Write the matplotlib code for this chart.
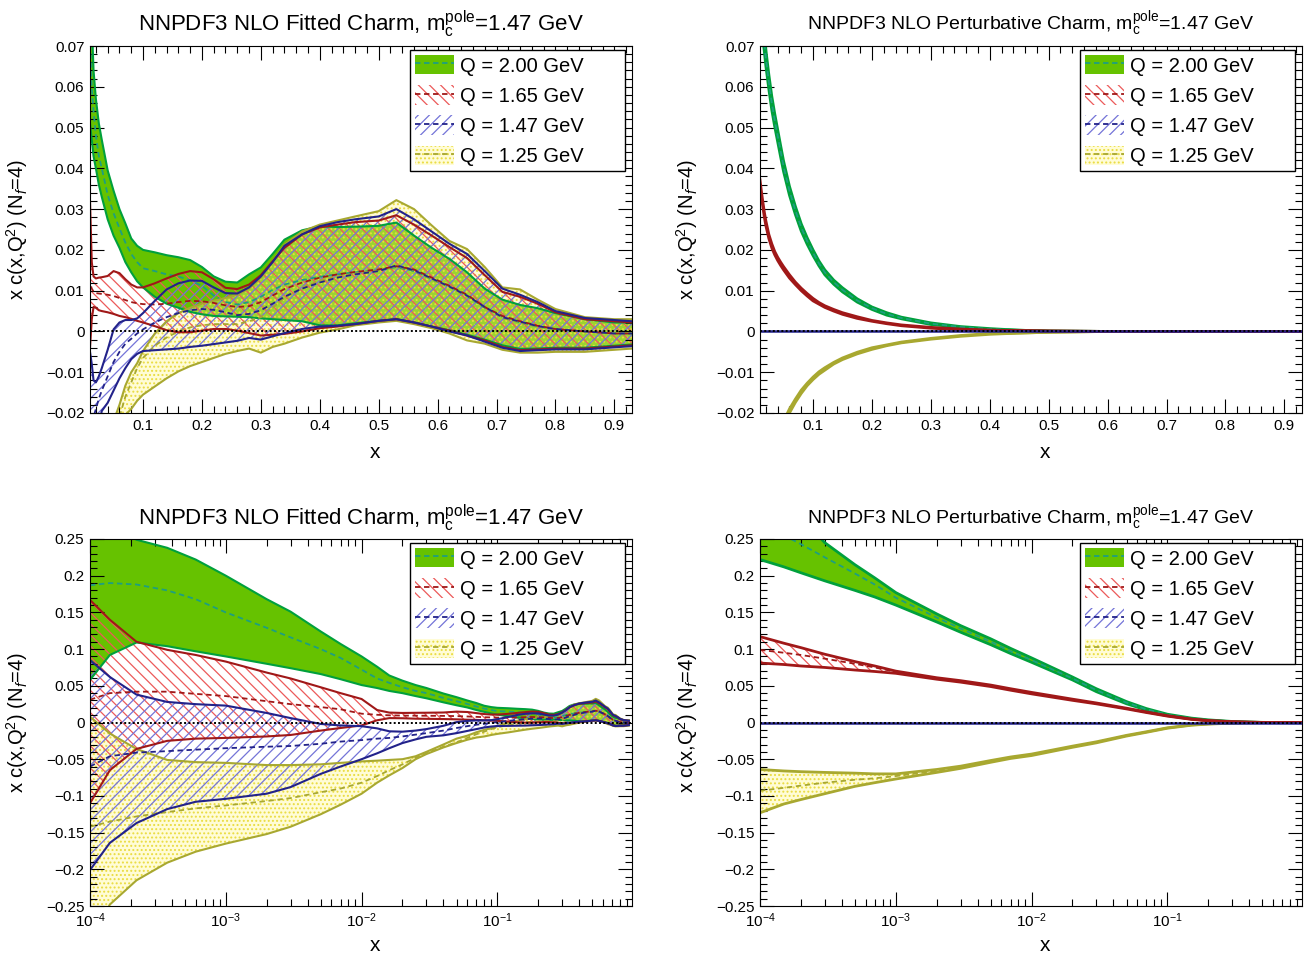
import matplotlib
matplotlib.use('Agg')
import matplotlib.pyplot as plt
from matplotlib.patches import Patch
from matplotlib.lines import Line2D
from matplotlib.ticker import MultipleLocator, FuncFormatter, LogLocator

plt.rcParams['font.family'] = ['Liberation Sans', 'DejaVu Sans']
plt.rcParams['mathtext.fontset'] = 'custom'
plt.rcParams['mathtext.rm'] = 'Liberation Sans'
plt.rcParams['mathtext.it'] = 'Liberation Sans:italic'
plt.rcParams['hatch.linewidth'] = 0.9

# ---------------- fitted charm (same curves in the linear and log panels)
x_fit = [1e-4, 1.4e-4, 2.2e-4, 3.7e-4, 6e-4, 1e-3, 2e-3, 3e-3, 5e-3, 7e-3,
         0.01, 0.013, 0.016, 0.02, 0.025, 0.03, 0.04, 0.05, 0.06, 0.07,
         0.08, 0.09, 0.1, 0.12, 0.14, 0.16, 0.18, 0.2, 0.22, 0.24,
         0.26, 0.28, 0.3, 0.32, 0.34, 0.37, 0.4, 0.43, 0.46, 0.5,
         0.53, 0.56, 0.59, 0.62, 0.65, 0.68, 0.71, 0.74, 0.77, 0.8,
         0.85, 0.9, 0.93]

# Q = 2.00 GeV
fit200_c = [0.187, 0.190, 0.188, 0.180, 0.168, 0.150, 0.129, 0.116, 0.100, 0.088,
            0.072, 0.060, 0.054, 0.048, 0.043, 0.040, 0.0335, 0.029, 0.0253, 0.0218,
            0.019, 0.017, 0.0155, 0.0148, 0.014, 0.0135, 0.0125, 0.0112, 0.0088, 0.0072,
            0.0066, 0.0072, 0.0085, 0.0102, 0.0115, 0.0126, 0.0134, 0.014, 0.0145, 0.015,
            0.0158, 0.0148, 0.0128, 0.011, 0.0087, 0.0058, 0.0035, 0.0022, 0.0012, 0.0005,
            0.0, -0.0005, -0.0005]
fit200_hi = [0.285, 0.27, 0.249, 0.238, 0.222, 0.200, 0.168, 0.151, 0.124, 0.107,
             0.090, 0.076, 0.064, 0.057, 0.051, 0.047, 0.0395, 0.0345, 0.030, 0.0265,
             0.0228, 0.021, 0.020, 0.0194, 0.0187, 0.0182, 0.0175, 0.0158, 0.0135, 0.0122,
             0.0120, 0.0140, 0.0157, 0.0190, 0.0225, 0.0248, 0.0258, 0.0256, 0.0257, 0.0259,
             0.0267, 0.0235, 0.0205, 0.0178, 0.0145, 0.0105, 0.0078, 0.0065, 0.0057, 0.0045,
             0.0030, 0.0022, 0.0022]
fit200_lo = [0.058, 0.092, 0.109, 0.104, 0.097, 0.090, 0.080, 0.074, 0.066, 0.059,
             0.051, 0.047, 0.043, 0.040, 0.036, 0.033, 0.0275, 0.0235, 0.0205, 0.017,
             0.0145, 0.0123, 0.0108, 0.0085, 0.0068, 0.0058, 0.0048, 0.0042, 0.0038, 0.0037,
             0.0036, 0.0035, 0.0032, 0.0030, 0.0028, 0.0025, 0.0015, 0.0015, 0.0020, 0.0026,
             0.0030, 0.0022, 0.0012, 0.0003, -0.0008, -0.0020, -0.0034, -0.0043, -0.0042, -0.0040,
             -0.0040, -0.0035, -0.0032]

# Q = 1.65 GeV
fit165_c = [0.031, 0.040, 0.042, 0.042, 0.039, 0.036, 0.029, 0.025, 0.021, 0.018,
            0.012, 0.0105, 0.0098, 0.0094, 0.0093, 0.0092, 0.0090, 0.0087, 0.0082, 0.0077,
            0.0072, 0.0069, 0.0067, 0.0066, 0.0068, 0.0072, 0.0075, 0.0074, 0.007, 0.0064,
            0.006, 0.0062, 0.0072, 0.0088, 0.0104, 0.012, 0.0132, 0.014, 0.0146, 0.0152,
            0.016, 0.0152, 0.0132, 0.0112, 0.009, 0.006, 0.0038, 0.0025, 0.0014, 0.0006,
            0.0, -0.0005, -0.0005]
fit165_hi = [0.167, 0.14, 0.110, 0.099, 0.092, 0.083, 0.068, 0.060, 0.048, 0.040,
             0.032, 0.017, 0.0135, 0.013, 0.0132, 0.0133, 0.0136, 0.0148, 0.0143, 0.0128,
             0.0115, 0.0108, 0.0108, 0.0118, 0.013, 0.0141, 0.0148, 0.0145, 0.0128, 0.0107,
             0.0104, 0.0115, 0.0138, 0.0172, 0.0205, 0.0238, 0.0255, 0.0262, 0.0268, 0.0272,
             0.0285, 0.0262, 0.0235, 0.0207, 0.018, 0.0138, 0.0097, 0.0085, 0.0068, 0.0047,
             0.0030, 0.0025, 0.0022]
fit165_lo = [-0.110, -0.065, -0.036, -0.025, -0.022, -0.021, -0.019, -0.017, -0.011, -0.0075,
             -0.004, 0.003, 0.006, 0.0058, 0.0052, 0.0050, 0.0047, 0.0043, 0.0038, 0.0035,
             0.0031, 0.0026, 0.0022, 0.0013, 0.0003, -0.0002, -0.0002, 0.0002, 0.0006, 0.0006,
             0.0002, -0.0004, -0.001, -0.0008, -0.0006, 0.0, 0.0008, 0.0012, 0.0018, 0.0026,
             0.003, 0.0022, 0.0012, 0.0002, -0.001, -0.0022, -0.0038, -0.0046, -0.0044, -0.0042,
             -0.0042, -0.0037, -0.0034]

# Q = 1.47 GeV
fit147_c = [-0.060, -0.046, -0.041, -0.039, -0.037, -0.035, -0.033, -0.032, -0.029, -0.026,
            -0.024, -0.022, -0.021, -0.019, -0.0165, -0.0145, -0.011, -0.0075, -0.005, -0.003,
            -0.0018, -0.0005, 0.0005, 0.0022, 0.0035, 0.0045, 0.0052, 0.0055, 0.0053, 0.0047,
            0.0040, 0.0043, 0.0052, 0.0068, 0.0085, 0.0105, 0.012, 0.0132, 0.014, 0.0148,
            0.0162, 0.015, 0.013, 0.011, 0.0088, 0.006, 0.0035, 0.0024, 0.0013, 0.0006,
            0.0, -0.0005, -0.0005]
fit147_hi = [0.085, 0.062, 0.038, 0.028, 0.025, 0.023, 0.013, 0.006, -0.002, -0.004,
             -0.005, -0.008, -0.012, -0.0125, -0.011, -0.009, -0.0045, 0.0005, 0.0022, 0.0028,
             0.0028, 0.0032, 0.0045, 0.0075, 0.0103, 0.0118, 0.0125, 0.0124, 0.0108, 0.0094,
             0.0093, 0.0108, 0.0135, 0.0170, 0.021, 0.0238, 0.0258, 0.0268, 0.0275, 0.0282,
             0.030, 0.0275, 0.0245, 0.0215, 0.019, 0.0148, 0.0105, 0.0090, 0.0072, 0.0050,
             0.0033, 0.0028, 0.0025]
fit147_lo = [-0.201, -0.164, -0.137, -0.118, -0.108, -0.104, -0.097, -0.088, -0.070, -0.060,
             -0.050, -0.042, -0.035, -0.028, -0.023, -0.0195, -0.0175, -0.0145, -0.0115, -0.009,
             -0.0068, -0.0055, -0.0048, -0.0046, -0.0044, -0.0042, -0.0038, -0.0035, -0.0031, -0.0027,
             -0.0023, -0.0016, -0.0020, -0.0012, -0.0004, 0.0006, 0.0012, 0.0014, 0.0018, 0.0026,
             0.003, 0.0022, 0.0012, 0.0, -0.001, -0.0025, -0.004, -0.0048, -0.0046, -0.0044,
             -0.0044, -0.0039, -0.0036]

# Q = 1.25 GeV
fit125_c = [-0.142, -0.135, -0.128, -0.122, -0.117, -0.113, -0.107, -0.103, -0.095, -0.090,
            -0.082, -0.073, -0.065, -0.057, -0.048, -0.042, -0.033, -0.027, -0.021, -0.016,
            -0.0125, -0.009, -0.0065, -0.0035, -0.0015, 0.0, 0.001, 0.0015, 0.0018, 0.0018,
            0.0018, 0.0025, 0.0035, 0.0058, 0.0082, 0.0108, 0.0125, 0.0135, 0.0142, 0.015,
            0.016, 0.015, 0.0128, 0.011, 0.0088, 0.006, 0.0033, 0.0022, 0.0012, 0.0005,
            0.0, -0.0005, -0.0005]
fit125_hi = [0.008, -0.015, -0.036, -0.051, -0.054, -0.055, -0.058, -0.058, -0.057, -0.055,
             -0.053, -0.052, -0.051, -0.050, -0.046, -0.040, -0.030, -0.022, -0.018, -0.0133,
             -0.010, -0.0078, -0.0048, -0.0005, 0.0025, 0.0045, 0.0058, 0.0068, 0.0075, 0.0082,
             0.009, 0.0105, 0.0132, 0.0172, 0.0212, 0.0245, 0.0262, 0.0272, 0.0282, 0.0295,
             0.0322, 0.030, 0.026, 0.0222, 0.0202, 0.0158, 0.0108, 0.0103, 0.0078, 0.0055,
             0.0035, 0.0030, 0.0030]
fit125_lo = [-0.30, -0.248, -0.215, -0.191, -0.176, -0.165, -0.152, -0.142, -0.125, -0.112,
             -0.097, -0.082, -0.072, -0.062, -0.050, -0.043, -0.034, -0.028, -0.0235, -0.0205,
             -0.019, -0.017, -0.0155, -0.0135, -0.0115, -0.0098, -0.0085, -0.0075, -0.0065, -0.0055,
             -0.0048, -0.0042, -0.0052, -0.0038, -0.003, -0.0015, -0.0003, 0.0005, 0.0015, 0.0022,
             0.0026, 0.0018, 0.0008, -0.0005, -0.0022, -0.003, -0.0045, -0.0052, -0.0052, -0.005,
             -0.005, -0.0045, -0.0042]

# ---------------- perturbative charm, linear-x panel
x_pl = [0.01, 0.0125, 0.015, 0.0175, 0.02, 0.025, 0.03, 0.035, 0.04, 0.045,
        0.05, 0.06, 0.07, 0.08, 0.09, 0.1, 0.11, 0.12, 0.135, 0.15,
        0.175, 0.2, 0.225, 0.25, 0.3, 0.35, 0.4, 0.45, 0.5, 0.6,
        0.7, 0.8, 0.93]
pl200_c = [0.083, 0.0785, 0.074, 0.0705, 0.067, 0.0612, 0.056, 0.0518, 0.048, 0.0442,
           0.0405, 0.0345, 0.0297, 0.0255, 0.0222, 0.0193, 0.0167, 0.0145, 0.0121, 0.0102,
           0.0076, 0.0057, 0.0043, 0.0033, 0.0019, 0.0011, 0.0006, 0.0003, 0.0001, 0.0,
           0.0, 0.0, 0.0]
pl200_hi = [0.0855, 0.0808, 0.0762, 0.0726, 0.069, 0.063, 0.0577, 0.0534, 0.0495, 0.0456,
            0.0418, 0.0356, 0.0307, 0.0264, 0.023, 0.020, 0.0173, 0.0151, 0.0126, 0.0107,
            0.008, 0.006, 0.0046, 0.0035, 0.0021, 0.0012, 0.0007, 0.0003, 0.0001, 0.0,
            0.0, 0.0, 0.0]
pl200_lo = [0.0805, 0.0762, 0.0718, 0.0684, 0.065, 0.0594, 0.0543, 0.0502, 0.0465, 0.0428,
            0.0392, 0.0334, 0.0287, 0.0246, 0.0214, 0.0186, 0.0161, 0.0139, 0.0116, 0.0097,
            0.0072, 0.0054, 0.004, 0.0031, 0.0017, 0.001, 0.0005, 0.0003, 0.0001, 0.0,
            0.0, 0.0, 0.0]
pl165_c = [0.0365, 0.0335, 0.031, 0.0285, 0.0265, 0.0233, 0.021, 0.0192, 0.0178, 0.0166,
           0.0155, 0.0135, 0.0118, 0.0103, 0.009, 0.0078, 0.0069, 0.0061, 0.0052, 0.0044,
           0.0034, 0.0026, 0.002, 0.0015, 0.0009, 0.0005, 0.0003, 0.0002, 0.0001, 0.0,
           0.0, 0.0, 0.0]
pl165_hi = [0.0372, 0.0342, 0.0316, 0.0291, 0.0271, 0.0238, 0.0215, 0.0196, 0.0182, 0.017,
            0.0159, 0.0139, 0.0121, 0.0106, 0.0093, 0.0081, 0.0071, 0.0063, 0.0054, 0.0046,
            0.0036, 0.0027, 0.0021, 0.0016, 0.001, 0.0006, 0.0003, 0.0002, 0.0001, 0.0,
            0.0, 0.0, 0.0]
pl165_lo = [0.0358, 0.0328, 0.0304, 0.0279, 0.0259, 0.0228, 0.0205, 0.0188, 0.0174, 0.0162,
            0.0151, 0.0131, 0.0115, 0.010, 0.0087, 0.0075, 0.0067, 0.0059, 0.005, 0.0042,
            0.0032, 0.0025, 0.0019, 0.0014, 0.0008, 0.0004, 0.0003, 0.0002, 0.0001, 0.0,
            0.0, 0.0, 0.0]
pl147_c = [0.0] * 33
pl125_c = [-0.042, -0.040, -0.038, -0.0365, -0.035, -0.0325, -0.030, -0.028, -0.026, -0.0242,
           -0.0225, -0.0195, -0.017, -0.0148, -0.013, -0.0115, -0.0102, -0.0092, -0.0078, -0.0067,
           -0.0053, -0.0042, -0.0034, -0.0027, -0.0018, -0.0011, -0.0006, -0.0004, -0.0002, 0.0,
           0.0, 0.0, 0.0]
pl125_hi = [-0.041, -0.039, -0.037, -0.0356, -0.0342, -0.0318, -0.0293, -0.0274, -0.0254, -0.0237,
            -0.022, -0.019, -0.0166, -0.0144, -0.0127, -0.0112, -0.0099, -0.0089, -0.0076, -0.0065,
            -0.0051, -0.004, -0.0033, -0.0026, -0.0017, -0.001, -0.0005, -0.0004, -0.0002, 0.0,
            0.0, 0.0, 0.0]
pl125_lo = [-0.043, -0.041, -0.039, -0.0374, -0.0358, -0.0332, -0.0307, -0.0286, -0.0266, -0.0247,
            -0.023, -0.020, -0.0174, -0.0152, -0.0133, -0.0118, -0.0105, -0.0095, -0.008, -0.0069,
            -0.0055, -0.0044, -0.0035, -0.0028, -0.0019, -0.0012, -0.0007, -0.0004, -0.0002, 0.0,
            0.0, 0.0, 0.0]

# ---------------- perturbative charm, log-x panel
x_pg = [1e-4, 1.5e-4, 2e-4, 3e-4, 5e-4, 7e-4, 1e-3, 2e-3, 3e-3, 5e-3,
        7e-3, 0.01, 0.02, 0.03, 0.05, 0.07, 0.1, 0.15, 0.2, 0.3,
        0.4, 0.5, 0.7, 0.98]
pg200_c = [0.275, 0.255, 0.243, 0.225, 0.203, 0.188, 0.170, 0.143, 0.128, 0.110,
           0.097, 0.085, 0.060, 0.044, 0.027, 0.018, 0.0105, 0.0055, 0.0032, 0.0012,
           0.0005, 0.0002, 0.0, 0.0]
pg200_hi = [0.33, 0.305, 0.28, 0.245, 0.215, 0.197, 0.177, 0.148, 0.132, 0.114,
            0.101, 0.088, 0.062, 0.046, 0.0285, 0.019, 0.0113, 0.006, 0.0036, 0.0014,
            0.0006, 0.0002, 0.0, 0.0]
pg200_lo = [0.222, 0.212, 0.204, 0.193, 0.180, 0.171, 0.160, 0.137, 0.123, 0.106,
            0.094, 0.082, 0.058, 0.042, 0.0255, 0.017, 0.0097, 0.005, 0.0028, 0.001,
            0.0004, 0.0001, 0.0, 0.0]
pg165_c = [0.099, 0.095, 0.092, 0.087, 0.080, 0.075, 0.069, 0.060, 0.056, 0.050,
           0.045, 0.040, 0.031, 0.026, 0.019, 0.014, 0.009, 0.0045, 0.0025, 0.001,
           0.0004, 0.0001, 0.0, 0.0]
pg165_hi = [0.117, 0.108, 0.102, 0.093, 0.083, 0.077, 0.070, 0.061, 0.057, 0.051,
            0.046, 0.041, 0.0318, 0.0266, 0.0195, 0.0144, 0.0093, 0.0047, 0.0027, 0.0011,
            0.0005, 0.0001, 0.0, 0.0]
pg165_lo = [0.081, 0.079, 0.077, 0.075, 0.0715, 0.0695, 0.067, 0.059, 0.055, 0.049,
            0.044, 0.039, 0.0302, 0.0254, 0.0185, 0.0136, 0.0087, 0.0043, 0.0023, 0.0009,
            0.0003, 0.0001, 0.0, 0.0]
pg147_c = [0.0] * 24
pg125_c = [-0.093, -0.089, -0.086, -0.082, -0.078, -0.076, -0.073, -0.066, -0.061, -0.053,
           -0.048, -0.044, -0.033, -0.027, -0.018, -0.013, -0.0075, -0.0035, -0.002, -0.0008,
           -0.0003, -0.0001, 0.0, 0.0]
pg125_hi = [-0.064, -0.066, -0.067, -0.068, -0.069, -0.070, -0.070, -0.064, -0.0595, -0.0518,
            -0.047, -0.043, -0.0322, -0.0263, -0.0175, -0.0126, -0.0072, -0.0033, -0.0018, -0.0007,
            -0.0002, -0.0001, 0.0, 0.0]
pg125_lo = [-0.123, -0.111, -0.105, -0.097, -0.087, -0.082, -0.077, -0.068, -0.0625, -0.0542,
            -0.049, -0.045, -0.0338, -0.0277, -0.0185, -0.0134, -0.0078, -0.0037, -0.0022, -0.0009,
            -0.0004, -0.0001, 0.0, 0.0]

labels = ['Q = 2.00 GeV', 'Q = 1.65 GeV', 'Q = 1.47 GeV', 'Q = 1.25 GeV']

# look of each Q band (ROOT-like)
sty = [
    dict(face='#66c200', hatch=None, hcol='#66c200', edge='#00a03c', dash='#1d9f80'),
    dict(face='none', hatch='\\\\\\', hcol='#ec5a5a', edge='#a01818', dash='#a01818'),
    dict(face='none', hatch='///', hcol='#7474d8', edge='#22228a', dash='#22228a'),
    dict(face=(1.0, 0.97, 0.55, 0.35), hatch='....', hcol='#eadc40', edge='#a8a830', dash='#a8a830'),
]


def band(ax, x, lo, hi, s):
    if s['hatch'] is None:
        ax.fill_between(x, lo, hi, facecolor=s['face'], edgecolor='none', lw=0)
    else:
        ax.fill_between(x, lo, hi, facecolor=s['face'], edgecolor=s['hcol'],
                        hatch=s['hatch'], lw=0)


def lines(ax, x, c, lo, hi, s, lw=1.5):
    ax.plot(x, hi, color=s['edge'], lw=lw)
    ax.plot(x, lo, color=s['edge'], lw=lw)
    ax.plot(x, c, color=s['dash'], lw=1.3, dashes=(3, 2))


def fmt(v, p):
    if abs(v) < 1e-9:
        return '0'
    return ('%g' % v).replace('-', '\u2212')


def style_axes(ax, log, ylim, ymaj, ymin):
    ax.set_ylim(*ylim)
    if log:
        ax.set_xscale('log')
        ax.set_xlim(1e-4, 0.98)
        ax.xaxis.set_major_locator(LogLocator(base=10, numticks=10))
        ax.xaxis.set_minor_locator(LogLocator(base=10, subs=range(2, 10), numticks=20))
    else:
        ax.set_xlim(0.01, 0.93)
        ax.xaxis.set_major_locator(MultipleLocator(0.1))
        ax.xaxis.set_minor_locator(MultipleLocator(0.02))
        ax.xaxis.set_major_formatter(FuncFormatter(fmt))
    ax.yaxis.set_major_locator(MultipleLocator(ymaj))
    ax.yaxis.set_minor_locator(MultipleLocator(ymin))
    ax.yaxis.set_major_formatter(FuncFormatter(fmt))
    ax.tick_params(which='both', direction='in', top=True, right=True, labelsize=11, pad=4)
    ax.tick_params(which='major', length=10, width=0.8)
    ax.tick_params(which='minor', length=5, width=0.8)
    ax.axhline(0, color='black', lw=1.4, ls=(0, (1, 1.2)), zorder=5)
    ax.set_xlabel('x', fontsize=15)
    ax.xaxis.set_label_coords(0.525, -0.082)
    ax.set_ylabel(r'x c(x,Q$^{2}$) (N$_{f}$=4)', fontsize=14.5)
    ax.yaxis.set_label_coords(-0.11, 0.5)
    handles = []
    for s in sty:
        p = Patch(facecolor=s['face'], edgecolor=s['hcol'], hatch=s['hatch'], lw=0)
        l = Line2D([], [], color=s['dash'], lw=1.3, dashes=(3, 2))
        handles.append((p, l))
    leg = ax.legend(handles, labels, loc='upper left', mode='expand',
                    bbox_to_anchor=(0.590, 0.662, 0.397, 0.327),
                    fontsize=14.5, frameon=True, fancybox=False, framealpha=1,
                    edgecolor='black', handlelength=1.95, handleheight=1.1,
                    labelspacing=0.48, borderpad=0.25, handletextpad=0.3, borderaxespad=0)
    leg.get_frame().set_linewidth(1.0)
    leg.set_zorder(10)


def draw_fitted(ax):
    sets = [(fit200_c, fit200_lo, fit200_hi), (fit165_c, fit165_lo, fit165_hi),
            (fit147_c, fit147_lo, fit147_hi), (fit125_c, fit125_lo, fit125_hi)]
    for k in [0, 3, 1, 2]:
        c, lo, hi = sets[k]
        band(ax, x_fit, lo, hi, sty[k])
    for k in [0, 3, 1, 2]:
        c, lo, hi = sets[k]
        lines(ax, x_fit, c, lo, hi, sty[k])


def draw_pert(ax, x, sets, zero):
    for k in [0, 3, 1]:
        c, lo, hi = sets[k]
        band(ax, x, lo, hi, sty[k])
    for k in [0, 3, 1]:
        c, lo, hi = sets[k]
        lines(ax, x, c, lo, hi, sty[k], lw=2.0)
    ax.plot(x, zero, color=sty[2]['edge'], lw=1.8)


fig = plt.figure(figsize=(13.09, 9.58), dpi=100)
W, H = 1309.0, 958.0
pos = {
    'tl': [90 / W, 1 - 413 / H, 542 / W, 367 / H],
    'tr': [760 / W, 1 - 413 / H, 542 / W, 367 / H],
    'bl': [90 / W, 1 - 906 / H, 542 / W, 367 / H],
    'br': [760 / W, 1 - 906 / H, 542 / W, 367 / H],
}

ax = fig.add_axes(pos['tl'])
draw_fitted(ax)
style_axes(ax, False, (-0.02, 0.07), 0.01, 0.002)

ax = fig.add_axes(pos['bl'])
draw_fitted(ax)
style_axes(ax, True, (-0.25, 0.25), 0.05, 0.01)

ax = fig.add_axes(pos['tr'])
draw_pert(ax, x_pl, [(pl200_c, pl200_lo, pl200_hi), (pl165_c, pl165_lo, pl165_hi),
                     None, (pl125_c, pl125_lo, pl125_hi)], pl147_c)
style_axes(ax, False, (-0.02, 0.07), 0.01, 0.002)

ax = fig.add_axes(pos['br'])
draw_pert(ax, x_pg, [(pg200_c, pg200_lo, pg200_hi), (pg165_c, pg165_lo, pg165_hi),
                     None, (pg125_c, pg125_lo, pg125_hi)], pg147_c)
style_axes(ax, True, (-0.25, 0.25), 0.05, 0.01)

t_fit = r'NNPDF3 NLO Fitted Charm, m$_{\mathrm{c}}^{\mathrm{pole}}$=1.47 GeV'
t_pert = r'NNPDF3 NLO Perturbative Charm, m$_{\mathrm{c}}^{\mathrm{pole}}$=1.47 GeV'
fig.text(361 / W, 1 - 24 / H, t_fit, ha='center', va='center', fontsize=16)
fig.text(1031 / W, 1 - 24 / H, t_pert, ha='center', va='center', fontsize=14)
fig.text(361 / W, 1 - 518 / H, t_fit, ha='center', va='center', fontsize=16)
fig.text(1031 / W, 1 - 518 / H, t_pert, ha='center', va='center', fontsize=14)

fig.savefig('out.png', dpi=100)
